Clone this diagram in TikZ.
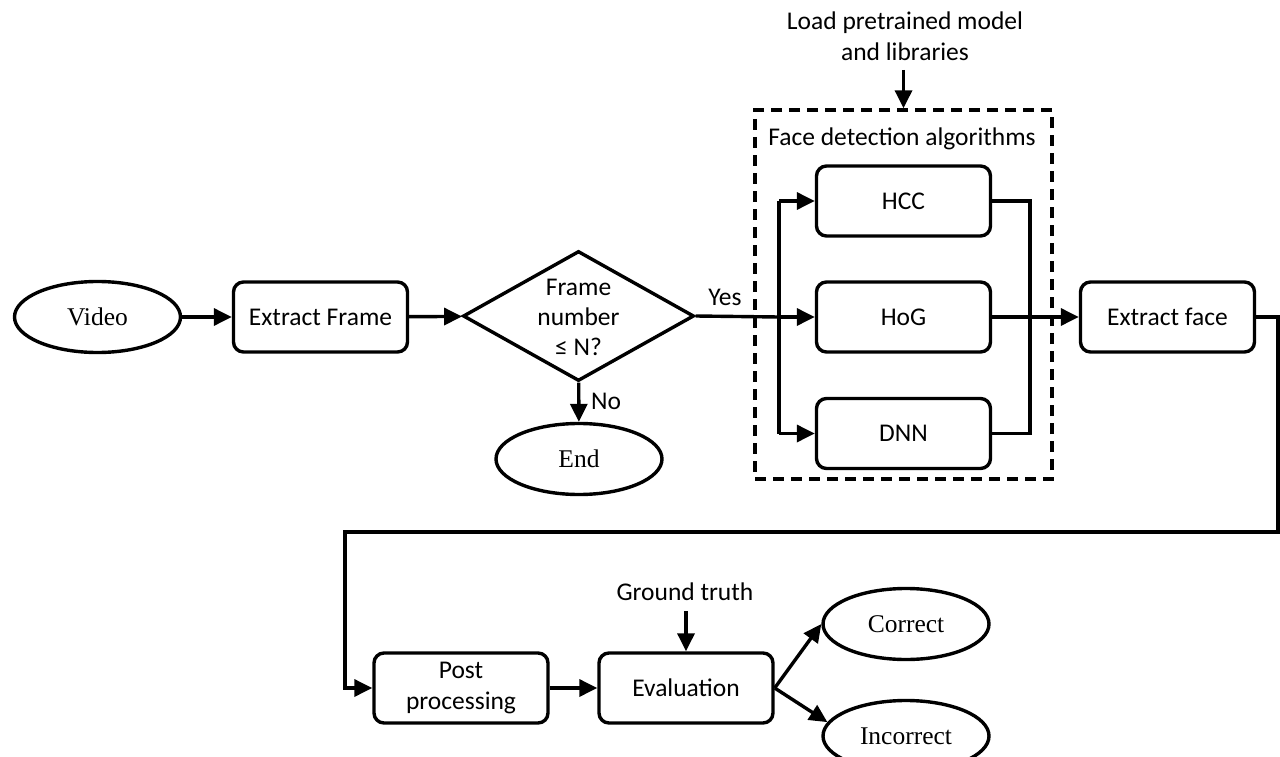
\documentclass[tikz,border=0pt]{standalone}
\usepackage{fontspec}
\setmainfont{Carlito}
\newfontfamily\timesfont{Liberation Serif}
\usetikzlibrary{arrows.meta,shapes.geometric}
\begin{document}
\begin{tikzpicture}[x=1pt,y=-1pt,line width=3.4pt,
  proc/.style={draw,rounded corners=10pt,minimum width=174pt,minimum height=70pt,inner sep=0pt,align=center,font=\fontsize{25.5}{31}\selectfont},
  term/.style={draw,ellipse,minimum width=166pt,minimum height=71pt,inner sep=0pt,font=\timesfont\fontsize{25.5}{30}\selectfont},
  lbl/.style={align=center,inner sep=0pt,font=\fontsize{25.5}{31}\selectfont},
  arr/.style={-{Triangle[length=18pt,width=17pt]}}]
\useasboundingbox (0,0) rectangle (1280,757);
% first row
\node[term] (video) at (97.5,317) {Video};
\node[proc] (ef) at (320.5,317) {Extract Frame};
\node[draw,diamond,minimum width=231pt,minimum height=130pt,inner sep=0pt] (dia) at (578.5,316) {};
\node[lbl,font=\fontsize{25.5}{30}\selectfont] (diatext) at (578.5,317) {Frame\\number\\≤ N?};
\node[term] (end) at (579,459) {End};
\node[lbl] (yes) at (725,297) {Yes};
\node[lbl] (no) at (606,401) {No};
% detection group
\node[draw,dash pattern=on 11pt off 7pt,minimum width=297pt,minimum height=369pt,inner sep=0pt] (dbox) at (903.5,294.5) {};
\node[lbl] (fda) at (902,139) {Face detection algorithms};
\node[lbl] (load) at (905,36) {Load pretrained model\\and libraries};
\node[proc] (hcc) at (903.5,201) {HCC};
\node[proc] (hog) at (903.5,317) {HoG};
\node[proc] (dnn) at (903.5,433.5) {DNN};
\node[proc] (xf) at (1167.5,317) {Extract face};
% bottom row
\node[proc] (post) at (461,688) {Post\\processing};
\node[proc] (eval) at (686,688) {Evaluation};
\node[lbl] (gt) at (685,592) {Ground truth};
\node[term] (cor) at (906,624) {Correct};
\node[term] (inc) at (906,736) {Incorrect};
% coordinates
\coordinate (j) at (779,317);
\coordinate (jt) at (779,201);
\coordinate (jb) at (779,433.5);
\coordinate (rt) at (1030,201);
\coordinate (rb) at (1030,433.5);
\coordinate (la) at (903.5,70);
\coordinate (c1) at (1278,317);
\coordinate (c2) at (1278,532);
\coordinate (c3) at (345,532);
\coordinate (c4) at (345,688);
\coordinate (gta) at (686,611);
% connectors
\draw[arr] (video) -- (ef);
\draw[arr] (ef) -- (dia);
\draw[arr] (dia) -- (end);
\draw (dia.east) -- (j);
\draw (jt) -- (jb);
\draw[arr] (jt) -- (hcc.west);
\draw[arr] (j) -- (hog.west);
\draw[arr] (jb) -- (dnn.west);
\draw (hcc.east) -- (rt) -- (rb) -- (dnn.east);
\draw[arr] (hog.east) -- (xf.west);
\draw[arr] (la) -- (dbox.north);
\draw[arr] (xf.east) -- (c1) -- (c2) -- (c3) -- (c4) -- (post.west);
\draw[arr] (post) -- (eval);
\draw[arr] (gta) -- (eval.north);
\draw[arr] (eval.east) -- (cor.west);
\draw[arr] (eval.east) -- (inc.170);
\end{tikzpicture}
\end{document}
